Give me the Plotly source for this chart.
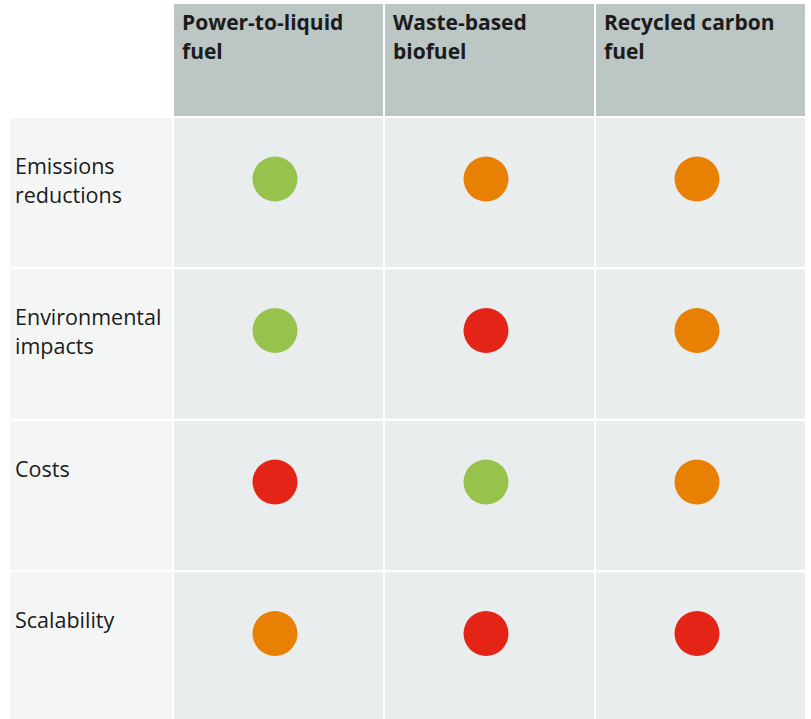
import plotly.graph_objects as go

# Pathways compared (columns) and the criteria they are assessed on (rows)
pathways = ["Power-to-liquid<br>fuel", "Waste-based<br>biofuel", "Recycled carbon<br>fuel"]
criteria = ["Emissions<br>reductions", "Environmental<br>impacts", "Costs", "Scalability"]

# Rating per criterion (row) for each pathway (column)
ratings = [
    ["good", "medium", "medium"],
    ["good", "poor", "medium"],
    ["poor", "good", "medium"],
    ["medium", "poor", "poor"],
]
rating_colors = {"good": "#97c34c", "medium": "#e88103", "poor": "#e32416"}

# Grid geometry in axis units (one unit = one pixel of the page)
W, H = 811, 719
label_left, label_right = 10, 172
col_left0, col_w, col_pitch = 174, 209, 211
head_top, head_bottom = 4, 116
row_top0, row_h, row_pitch = 118, 149, 151.5

HEADER_BG = "#bcc6c4"
LABEL_BG = "#f4f6f6"
CELL_BG = "#e9edee"
TEXT = "#1b1b1b"
FONT = "Open Sans"

shapes = []
annotations = []


def add_lines(text, x, y_first, spacing, size, bold=False):
    """Place each line of a <br>-separated label with a fixed line pitch."""
    for k, line in enumerate(text.split("<br>")):
        annotations.append(dict(
            x=x, y=y_first + k * spacing, xref="x", yref="y",
            text=f"<b>{line}</b>" if bold else line, showarrow=False,
            xanchor="left", yanchor="middle", align="left",
            font=dict(family=FONT, size=size, color=TEXT)))


for j, name in enumerate(pathways):
    x0 = col_left0 + j * col_pitch
    shapes.append(dict(type="rect", xref="x", yref="y", x0=x0, x1=x0 + col_w,
                       y0=head_top, y1=head_bottom, fillcolor=HEADER_BG,
                       line=dict(width=0), layer="below"))
    add_lines(name, x0 + 6, head_top + 17.5, 29.5, 21, bold=True)

for i, crit in enumerate(criteria):
    y0 = row_top0 + i * row_pitch
    shapes.append(dict(type="rect", xref="x", yref="y", x0=label_left, x1=label_right,
                       y0=y0, y1=y0 + row_h, fillcolor=LABEL_BG,
                       line=dict(width=0), layer="below"))
    add_lines(crit, label_left + 3, y0 + 47, 29, 21.5)
    for j in range(len(pathways)):
        x0 = col_left0 + j * col_pitch
        shapes.append(dict(type="rect", xref="x", yref="y", x0=x0, x1=x0 + col_w,
                           y0=y0, y1=y0 + row_h, fillcolor=CELL_BG,
                           line=dict(width=0), layer="below"))

# Rating dots
xs, ys, cs = [], [], []
for i, row in enumerate(ratings):
    for j, r in enumerate(row):
        xs.append(col_left0 + j * col_pitch + 101)
        ys.append(row_top0 + i * row_pitch + 61)
        cs.append(rating_colors[r])

fig = go.Figure(go.Scatter(
    x=xs, y=ys, mode="markers",
    marker=dict(size=45, color=cs, line=dict(width=0)),
    hoverinfo="skip", showlegend=False,
))

fig.update_layout(
    width=W, height=H,
    margin=dict(l=0, r=0, t=0, b=0),
    paper_bgcolor="white", plot_bgcolor="white",
    shapes=shapes, annotations=annotations,
    xaxis=dict(range=[0, W], visible=False, fixedrange=True),
    yaxis=dict(range=[H, 0], visible=False, fixedrange=True),
)

fig.write_html("out.html", config={"displayModeBar": False})
